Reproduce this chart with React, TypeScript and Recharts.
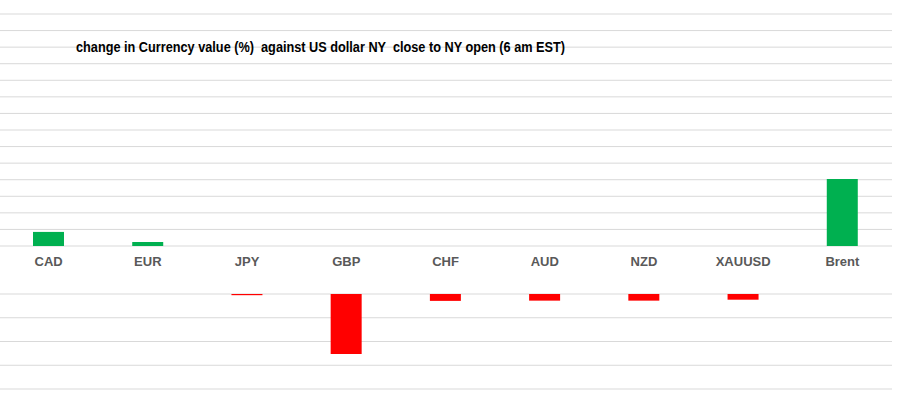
import React from 'react';
import { BarChart, Bar, XAxis, YAxis, CartesianGrid, Cell } from 'recharts';

const categories = ['CAD', 'EUR', 'JPY', 'GBP', 'CHF', 'AUD', 'NZD', 'XAUUSD', 'Brent'];
const changes = [0.085, 0.024, -0.005, -0.253, -0.029, -0.028, -0.028, -0.024, 0.404];
const upperTicks = [0, 0.1, 0.2, 0.3, 0.4, 0.5, 0.6, 0.7, 0.8, 0.9, 1.0, 1.1, 1.2, 1.3, 1.4];
const lowerTicks = [-0.4, -0.3, -0.2, -0.1, 0];
const title = 'change in Currency value (%)  against US dollar NY  close to NY open (6 am EST)';

const GREEN = '#00b050';
const RED = '#ff0000';
const GRID = '#d9d9d9';

const rows = categories.map((name, i) => ({
  name,
  gain: changes[i] > 0 ? changes[i] : 0,
  loss: changes[i] < 0 ? changes[i] : 0,
}));

const FONT = '"Liberation Sans", Arial, sans-serif';

export default function App() {
  return (
    <div style={{ position: 'absolute', left: 0, top: 0, width: 920, height: 394, background: '#fff', overflow: 'hidden' }}>
      <div style={{ position: 'absolute', left: -1, top: 0 }}>
        <BarChart width={921} height={280} data={rows} margin={{ top: 14, right: 28, left: 0, bottom: 0 }} barCategoryGap={0}>
          <CartesianGrid horizontal={true} vertical={false} stroke={GRID} strokeWidth={1} />
          <YAxis hide domain={[0, 1.4]} ticks={upperTicks} interval={0} type="number" />
          <XAxis
            dataKey="name"
            axisLine={false}
            tickLine={false}
            height={34}
            tickMargin={5}
            interval={0}
            tick={{ fill: '#595959', fontSize: 13, fontWeight: 'bold', fontFamily: FONT }}
          />
          <Bar dataKey="gain" barSize={31} isAnimationActive={false}>
            {rows.map((r) => (
              <Cell key={r.name} fill={GREEN} />
            ))}
          </Bar>
        </BarChart>
      </div>
      <div style={{ position: 'absolute', left: -1, top: 290 }}>
        <BarChart width={921} height={110} data={rows} margin={{ top: 4, right: 28, left: 0, bottom: 11 }} barCategoryGap={0}>
          <CartesianGrid horizontal={true} vertical={false} stroke={GRID} strokeWidth={1} />
          <YAxis hide domain={[-0.4, 0]} ticks={lowerTicks} interval={0} type="number" />
          <XAxis dataKey="name" hide />
          <Bar dataKey="loss" barSize={31} isAnimationActive={false}>
            {rows.map((r) => (
              <Cell key={r.name} fill={RED} />
            ))}
          </Bar>
        </BarChart>
      </div>
      <svg width={920} height={394} style={{ position: 'absolute', left: 0, top: 0, pointerEvents: 'none' }}>
        <text
          x={76}
          y={52}
          fontFamily={FONT}
          fontWeight="bold"
          fontSize={14}
          fill="#000"
          textLength={489}
          lengthAdjust="spacingAndGlyphs"
          style={{ whiteSpace: 'pre' }}
        >
          {title}
        </text>
      </svg>
    </div>
  );
}
